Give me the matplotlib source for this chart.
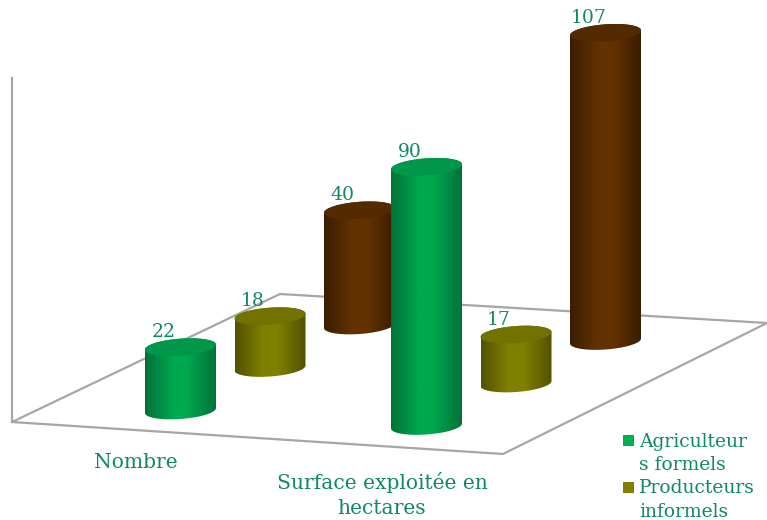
import numpy as np
import matplotlib
matplotlib.use("Agg")
import matplotlib.pyplot as plt
from matplotlib.patches import Polygon, Rectangle
from matplotlib.colors import LinearSegmentedColormap

categories = ["Nombre", "Surface exploitée en\nhectares"]
series_names = ["Agriculteur\ns formels", "Producteurs\ninformels", "Autres"]
agriculteurs = [22, 90]
producteurs = [18, 17]
autres = [40, 107]
series_values = [agriculteurs, producteurs, autres]
# edge, centre, top colours per series
series_edge = ["#007238", "#525200", "#3A1D00"]
series_mid = ["#00A84F", "#808000", "#643200"]
series_top = ["#00974A", "#727200", "#542A00"]
legend_colors = ["#00B050", "#808000"]
TEXT = "#0F8A60"
GRID = "#A6A6A6"
FONT = "DejaVu Serif"

# oblique projection of the chart's 3D box onto the page (pixel units)
ORIGIN = np.array([180.5, 410.5])
CAT_STEP = np.array([246.0, 15.5])
SER_STEP = np.array([89.5, -42.5])
UNIT = 2.88
RX, RY, TILT = 35.5, 8.5, -0.07

def project(cat, ser, value=0.0):
    p = ORIGIN + cat * CAT_STEP + ser * SER_STEP
    return p[0], p[1] - value * UNIT

fig = plt.figure(figsize=(7.67, 5.20), dpi=100)
ax = fig.add_axes([0, 0, 1, 1])

# floor and wall
ax.plot([12, 12, 503, 767], [78, 422, 454, 323], color=GRID, lw=1.6, solid_joinstyle="miter", zorder=1)
ax.plot([12, 280, 767], [422, 294, 323], color=GRID, lw=1.6, solid_joinstyle="miter", zorder=1)

def ellipse_arc(cx, cy, t0, t1, n=60):
    t = np.linspace(t0, t1, n)
    return cx + RX * np.cos(t), cy + RY * np.sin(t) + TILT * RX * np.cos(t)

bars = []
for s, vals in enumerate(series_values):
    for c, v in enumerate(vals):
        bars.append((project(c, s)[1], c, s, v))
bars.sort()

z = 2
for _, c, s, v in bars:
    cx, by = project(c, s)
    _, ty = project(c, s, v)
    # body outline: lower half of base ellipse, upper half of top ellipse
    bx, byy = ellipse_arc(cx, by, np.pi, 0)
    tx, tyy = ellipse_arc(cx, ty, 0, -np.pi)
    body = Polygon(np.c_[np.r_[bx, tx], np.r_[byy, tyy]], closed=True, fc="none", ec="none", transform=ax.transData)
    ax.add_patch(body)
    cmap = LinearSegmentedColormap.from_list(
        "b", [(0, series_edge[s]), (0.4, series_mid[s]), (0.6, series_mid[s]), (1, series_edge[s])])
    grad = np.linspace(0, 1, 128).reshape(1, -1)
    im = ax.imshow(grad, cmap=cmap, extent=(cx - RX, cx + RX, by + RY + 4, ty - RY - 4),
                   aspect="auto", zorder=z, interpolation="bilinear")
    im.set_clip_path(body)
    etx, ety = ellipse_arc(cx, ty, 0, 2 * np.pi)
    ax.add_patch(Polygon(np.c_[etx, ety], closed=True, fc=series_top[s], ec="none", zorder=z + 0.5))
    ax.text(cx - 17, ty - 15, str(v), ha="center", va="center", color=TEXT, fontsize=13.5,
            family=FONT, zorder=50)
    z += 1

# category labels
cat_pos = [(136, 462), (382, 495)]
for lab, (x, y) in zip(categories, cat_pos):
    ax.text(x, y, lab, ha="center", va="center", color=TEXT, fontsize=14.6, family=FONT, linespacing=1.35)

# legend (third series is cut off in the original)
leg_pos = [(623, 435, 453.5), (623, 482, 500)]
for name, col, (x, y, ty) in zip(series_names, legend_colors, leg_pos):
    ax.add_patch(Rectangle((x, y), 11, 11, fc=col, ec="none", zorder=3))
    ax.text(x + 16, ty, name, ha="left", va="center", color=TEXT, fontsize=13.5, family=FONT, linespacing=1.42)

ax.set_xlim(0, 767)
ax.set_ylim(520, 0)
ax.axis("off")
fig.savefig("out.png", dpi=100, facecolor="white")
